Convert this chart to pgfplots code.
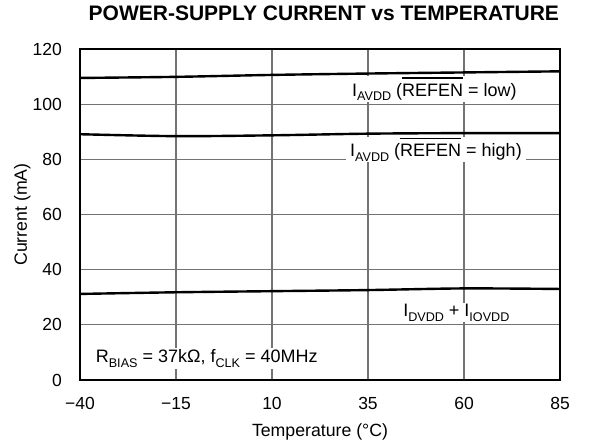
\documentclass[border=0pt]{standalone}
\usepackage{fontspec}
\setmainfont{Liberation Sans}
\usepackage{pgfplots}
\pgfplotsset{compat=1.18}

% thick bar over a word (active-low signal name)
\newcommand\ovl[1]{\leavevmode\vbox{\hrule height 1.3pt \kern 5pt \hbox{#1}}}
% lowered, smaller subscript as used in the signal names
\newcommand\sub[1]{\raisebox{-4.5pt}{\fontsize{12.6}{14}\selectfont #1}}

\begin{document}
\fontsize{18}{21}\selectfont
\begin{tikzpicture}[x=1pt,y=1pt]
\path[use as bounding box] (-80,-63) rectangle (510,380);
\begin{axis}[
  at={(0,0)}, anchor=south west,
  scale only axis, width=480pt, height=331pt,
  xmin=-40, xmax=85, ymin=0, ymax=120,
  xtick={-40,-15,10,35,60,85},
  xticklabels={−40,−15,10,35,60,85},
  ytick={0,20,...,120},
  grid=major,
  major grid style={line width=1.1pt, color=black!55},
  axis line style={line width=2pt},
  major tick length=0pt,
  /pgf/number format/assume math mode=true,
  tick label style={font=\fontsize{17.5}{21}\selectfont},
  xticklabel style={anchor=base, yshift=-30pt},
  yticklabel style={anchor=east, xshift=-12pt},
  title={POWER-SUPPLY CURRENT vs TEMPERATURE},
  title style={font=\bfseries\fontsize{21}{24}\selectfont, at={(axis description cs:0.508,1)}, anchor=base, yshift=22.3pt},
  xlabel={Temperature (°C)},
  xlabel style={font=\fontsize{17.7}{21}\selectfont, at={(axis description cs:0.5,0)}, anchor=base, yshift=-57pt},
  ylabel={Current (mA)},
  ylabel style={font=\fontsize{17.7}{21}\selectfont, at={(axis description cs:-0.12,0.5)}, anchor=center},
]
% I_AVDD, REFEN low
\addplot[black, line width=2.4pt, smooth] coordinates {(-40,109.5) (-15,109.9) (10,110.6) (35,111.1) (60,111.5) (85,111.9)};
% I_AVDD, REFEN high
\addplot[black, line width=2.4pt, smooth] coordinates {(-40,89.1) (-15,88.4) (10,88.7) (35,89.3) (60,89.5) (85,89.5)};
% I_DVDD + I_IOVDD
\addplot[black, line width=2.4pt, smooth] coordinates {(-40,31.2) (-15,31.8) (10,32.2) (35,32.6) (60,33.2) (85,33.0)};

\node[fill=white, inner xsep=3pt, inner ysep=1pt, anchor=base] at (axis cs:52.3,102.9)
  {I\sub{AVDD} (\ovl{REFEN} = low)};
\node[fill=white, inner xsep=4.5pt, inner ysep=1pt, anchor=base] at (axis cs:52.7,80.9)
  {I\sub{AVDD} (\ovl{REFEN} = high)};
\node[fill=white, inner xsep=3pt, inner ysep=1pt, anchor=base] at (axis cs:58.0,22.9)
  {I\sub{DVDD} + I\sub{IOVDD}};
\node[fill=white, inner xsep=3pt, inner ysep=2pt, anchor=base] at (axis cs:-7.0,6.3)
  {R\sub{BIAS} = 37kΩ, f\sub{CLK} = 40MHz};
\end{axis}
\end{tikzpicture}
\end{document}
